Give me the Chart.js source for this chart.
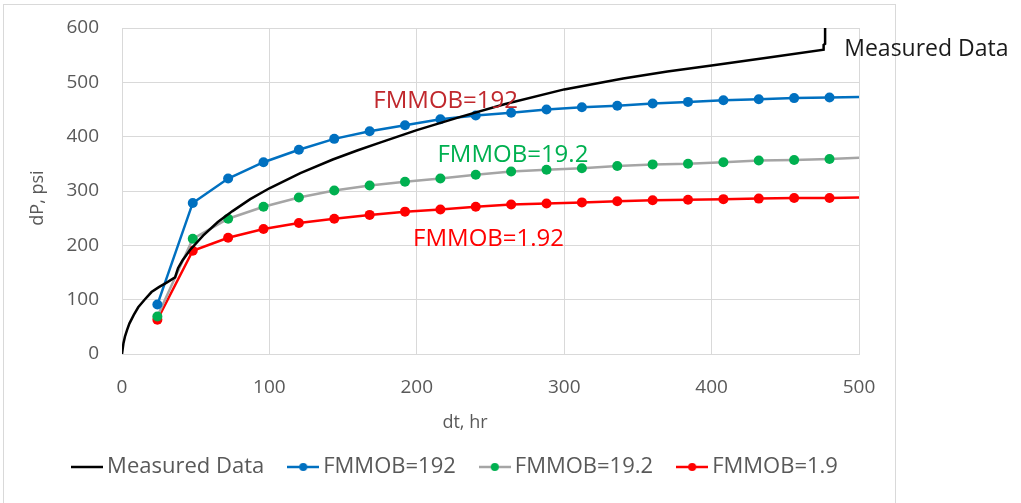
<!DOCTYPE html>
<html lang="en">
<head>
    <meta charset="UTF-8">
    <title>dP vs dt</title>
    <script src="https://cdn.jsdelivr.net/npm/chart.js"></script>
    <style>
        body {
            margin: 0;
            background: #ffffff;
        }
        .wrap {
            position: relative;
            width: 1021px;
            height: 503px;
        }
    </style>
</head>
<body>
    <div class="wrap">
        <canvas id="chart" width="1021" height="503"></canvas>
    </div>

    <script>
        // model time steps, hr
        const hours = [24, 48, 72, 96, 120, 144, 168, 192, 216, 240, 264, 288, 312, 336, 360, 384, 408, 432, 456, 480, 500];
        // dP, psi for each mobility factor
        const fmmob192 = [91, 278, 323, 353, 376, 396, 410, 421, 432, 439, 444, 450, 454, 457, 461, 464, 467, 469, 471, 472, 473];
        const fmmob19_2 = [69, 212, 249, 271, 288, 301, 310, 317, 323, 330, 336, 339, 342, 346, 349, 350, 353, 356, 357, 359, 361];
        const fmmob1_92 = [63, 190, 214, 230, 241, 249, 256, 262, 266, 271, 275, 277, 279, 281, 283, 284, 285, 286, 287, 287, 288];

        // measured gauge data
        const measuredT = [0, 1, 2, 3.4, 5, 8, 11, 15, 20, 25, 30, 36, 38, 41, 46, 55, 65, 75, 87, 100, 121, 143, 160, 175, 200, 229, 260, 300, 340, 370, 400, 440, 476, 476, 477, 477];
        const measuredDP = [0, 20, 32, 44, 56, 72, 86, 99, 114, 123, 131, 141, 158, 172, 191, 218, 243, 263, 285, 305, 333, 358, 375, 389, 412, 436, 460, 487, 507, 520, 531, 546, 560, 569, 571, 600];

        const seriesNames = ['Measured Data', 'FMMOB=192', 'FMMOB=19.2', 'FMMOB=1.9'];
        const xTicks = [0, 100, 200, 300, 400, 500];
        const yTicks = [0, 100, 200, 300, 400, 500, 600];

        const FONT = "'Open Sans', 'Noto Sans', sans-serif";
        const GRID = '#d9d9d9';
        const TEXT = '#595959';

        // labels inside the plot, anchored in data units (left, baseline)
        const notes = [
            { text: 'Measured Data', x: 490, y: 548, color: '#1a1a1a', size: 23 },
            { text: 'FMMOB=192', x: 170.5, y: 453, color: '#c0282d', size: 24 },
            { text: 'FMMOB=19.2', x: 214, y: 353, color: '#00b050', size: 24 },
            { text: 'FMMOB=1.92', x: 197.5, y: 199, color: '#ff0000', size: 24 }
        ];

        function pts(xs, ys) {
            return xs.map((x, i) => ({ x: x, y: ys[i] }));
        }

        // small line+dot icons for the legend
        function legendIcon(lineColor, dotColor) {
            const c = document.createElement('canvas');
            c.width = 32;
            c.height = 12;
            const g = c.getContext('2d');
            g.strokeStyle = lineColor;
            g.lineWidth = 2.5;
            g.beginPath();
            g.moveTo(0, 6);
            g.lineTo(32, 6);
            g.stroke();
            if (dotColor) {
                g.fillStyle = dotColor;
                g.beginPath();
                g.arc(16, 6, 4, 0, Math.PI * 2);
                g.fill();
            }
            return c;
        }
        const icons = [
            legendIcon('#000000', null),
            legendIcon('#0070c0', '#0070c0'),
            legendIcon('#a5a5a5', '#00b050'),
            legendIcon('#ff0000', '#ff0000')
        ];

        const hideLast = ctx => ctx.dataIndex === hours.length - 1 ? 0 : 5;

        const frameAndText = {
            id: 'frameAndText',
            beforeDraw(chart) {
                const ctx = chart.ctx;
                ctx.save();
                ctx.strokeStyle = GRID;
                ctx.lineWidth = 1;
                ctx.strokeRect(3.5, 4.5, 892, 600);
                ctx.restore();
            },
            afterDraw(chart) {
                const ctx = chart.ctx;
                const xs = chart.scales.x;
                const ys = chart.scales.y;
                const area = chart.chartArea;
                ctx.save();
                ctx.textAlign = 'left';
                ctx.textBaseline = 'alphabetic';
                notes.forEach(n => {
                    ctx.font = n.size + 'px ' + FONT;
                    ctx.fillStyle = n.color;
                    ctx.fillText(n.text, xs.getPixelForValue(n.x), ys.getPixelForValue(n.y));
                });

                // axis titles
                ctx.font = '18px ' + FONT;
                ctx.fillStyle = TEXT;
                ctx.textAlign = 'center';
                ctx.textBaseline = 'middle';
                ctx.fillText('dt, hr', area.left + 343, area.bottom + 69);
                ctx.translate(38, area.top + 170);
                ctx.rotate(-Math.PI / 2);
                ctx.fillText('dP, psi', 0, 0);
                ctx.restore();
            }
        };

        new Chart(document.getElementById('chart'), {
            type: 'scatter',
            data: {
                datasets: [
                    {
                        label: seriesNames[0],
                        data: pts(measuredT, measuredDP),
                        showLine: true,
                        borderColor: '#000000',
                        borderWidth: 2.5,
                        pointRadius: 0,
                        tension: 0
                    },
                    {
                        label: seriesNames[1],
                        data: pts(hours, fmmob192),
                        showLine: true,
                        borderColor: '#0070c0',
                        backgroundColor: '#0070c0',
                        borderWidth: 2.5,
                        pointRadius: hideLast,
                        pointBorderWidth: 0
                    },
                    {
                        label: seriesNames[2],
                        data: pts(hours, fmmob19_2),
                        showLine: true,
                        borderColor: '#a5a5a5',
                        backgroundColor: '#00b050',
                        pointBorderColor: '#00b050',
                        borderWidth: 2.5,
                        pointRadius: hideLast,
                        pointBorderWidth: 0
                    },
                    {
                        label: seriesNames[3],
                        data: pts(hours, fmmob1_92),
                        showLine: true,
                        borderColor: '#ff0000',
                        backgroundColor: '#ff0000',
                        borderWidth: 2.5,
                        pointRadius: hideLast,
                        pointBorderWidth: 0
                    }
                ]
            },
            options: {
                responsive: false,
                animation: false,
                events: [],
                layout: {
                    padding: { left: 0, right: 105, top: 28, bottom: 15 }
                },
                scales: {
                    x: {
                        type: 'linear',
                        min: 0,
                        max: 500,
                        afterBuildTicks: s => { s.ticks = xTicks.map(v => ({ value: v })); },
                        afterFit: s => { s.height = 72; },
                        ticks: { color: TEXT, font: { family: FONT, size: 19 }, padding: 22 },
                        grid: { color: GRID, drawTicks: false },
                        border: { color: GRID }
                    },
                    y: {
                        type: 'linear',
                        min: 0,
                        max: 600,
                        afterBuildTicks: s => { s.ticks = yTicks.map(v => ({ value: v })); },
                        afterFit: s => {
                            s.width = 122;
                            s.paddingTop = 0;
                            s.paddingBottom = 0;
                        },
                        ticks: { color: TEXT, font: { family: FONT, size: 19 }, padding: 23 },
                        grid: { color: GRID, drawTicks: false },
                        border: { color: GRID }
                    },
                    y2: {
                        type: 'linear',
                        position: 'right',
                        afterFit: s => {
                            s.width = 57;
                            s.paddingTop = 0;
                            s.paddingBottom = 0;
                        },
                        ticks: { display: false },
                        grid: { display: false },
                        border: { display: false }
                    }
                },
                plugins: {
                    tooltip: { enabled: false },
                    legend: {
                        position: 'bottom',
                        labels: {
                            color: TEXT,
                            font: { family: FONT, size: 22 },
                            padding: 30,
                            usePointStyle: true,
                            pointStyleWidth: 18,
                            generateLabels: chart => {
                                const items = Chart.defaults.plugins.legend.labels.generateLabels(chart);
                                items.forEach((it, i) => { it.pointStyle = icons[i]; });
                                return items;
                            }
                        }
                    }
                }
            },
            plugins: [frameAndText]
        });
    </script>
</body>
</html>
